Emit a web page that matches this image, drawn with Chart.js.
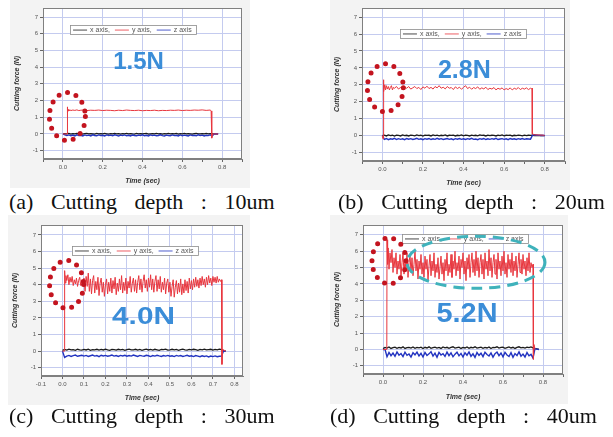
<!DOCTYPE html>
<html><head><meta charset="utf-8">
<script src="https://cdn.jsdelivr.net/npm/chart.js@4"></script>
<style>
html,body{margin:0;padding:0;background:#fff;width:613px;height:437px;overflow:hidden;}
.panel{position:absolute;background:#f3f3f3;}
.panel canvas{display:block;}
.cap{position:absolute;font-family:'Liberation Serif','Times New Roman',serif;font-size:22px;line-height:22px;color:#111;white-space:pre;word-spacing:12px;}
</style></head><body>
<div class="panel" style="left:10px;top:0px;width:240px;height:188px"><canvas id="ca" width="240" height="188"></canvas></div>
<div class="panel" style="left:330px;top:0px;width:240px;height:190px"><canvas id="cb" width="240" height="190"></canvas></div>
<div class="panel" style="left:8px;top:215px;width:242px;height:190px"><canvas id="cc" width="242" height="190"></canvas></div>
<div class="panel" style="left:330px;top:215px;width:238px;height:189px"><canvas id="cd" width="238" height="189"></canvas></div>
<div class="cap" style="left:9px;top:191px">(a) Cutting depth : 10um</div>
<div class="cap" style="left:338px;top:191px">(b) Cutting depth : 20um</div>
<div class="cap" style="left:9px;top:405px">(c) Cutting depth : 30um</div>
<div class="cap" style="left:330px;top:405px">(d) Cutting depth : 40um</div>
<script>
// ---------- DATA ----------
const seriesNames = ['x axis,', 'y axis,', 'z axis'];
const peakLabels = ['1.5N', '2.8N', '4.0N', '5.2N'];

// shared time grid (sec) for x-axis / z-axis force traces
const timeGrid = [0.00,0.01,0.02,0.03,0.04,0.05,0.06,0.07,0.08,0.09,
 0.10,0.11,0.12,0.13,0.14,0.15,0.16,0.17,0.18,0.19,
 0.20,0.21,0.22,0.23,0.24,0.25,0.26,0.27,0.28,0.29,
 0.30,0.31,0.32,0.33,0.34,0.35,0.36,0.37,0.38,0.39,
 0.40,0.41,0.42,0.43,0.44,0.45,0.46,0.47,0.48,0.49,
 0.50,0.51,0.52,0.53,0.54,0.55,0.56,0.57,0.58,0.59,
 0.60,0.61,0.62,0.63,0.64,0.65,0.66,0.67,0.68,0.69,
 0.70,0.71,0.72,0.73,0.74,0.75,0.76,0.77,0.78,0.79,
 0.80];

// (a) 10um
const xAxisA = [0.00,0.02,0.00,0.03,-0.01,0.02,0.01,0.03,0.00,0.02,
 -0.01,0.02,0.03,0.00,0.02,0.01,-0.01,0.03,0.01,0.02,
 0.00,0.03,0.01,-0.01,0.02,0.00,0.03,0.01,0.02,-0.01,
 0.02,0.00,0.03,0.01,0.02,0.00,-0.01,0.03,0.01,0.02,
 0.00,0.02,0.03,-0.01,0.01,0.02,0.00,0.03,0.01,0.02,
 -0.01,0.02,0.00,0.03,0.01,0.02,0.00,0.03,-0.01,0.02,
 0.01,0.03,0.00,0.02,0.01,-0.01,0.02,0.03,0.00,0.01,
 0.02,0.00,0.03,0.01,0.02,0.00,0.01,0.00,0.00];
const zAxisA = [0.00,-0.05,-0.10,-0.06,-0.11,-0.07,-0.12,-0.05,-0.10,-0.08,
 -0.12,-0.06,-0.10,-0.07,-0.12,-0.05,-0.09,-0.11,-0.06,-0.10,
 -0.08,-0.12,-0.06,-0.10,-0.07,-0.11,-0.05,-0.09,-0.12,-0.07,
 -0.10,-0.06,-0.11,-0.08,-0.12,-0.06,-0.09,-0.11,-0.07,-0.10,
 -0.05,-0.11,-0.08,-0.12,-0.06,-0.10,-0.07,-0.11,-0.09,-0.05,
 -0.10,-0.12,-0.07,-0.09,-0.11,-0.06,-0.10,-0.08,-0.12,-0.06,
 -0.11,-0.07,-0.09,-0.12,-0.06,-0.10,-0.08,-0.11,-0.05,-0.10,
 -0.07,-0.12,-0.08,-0.10,-0.06,-0.12,0.00,0.01,0.00];
const yAxisA = [[0,0],[0.021,0],[0.022,1.62],[0.024,1.28],[0.027,1.46],[0.03,1.38],[0.035,1.44],[0.04,1.4],
 [0.05,1.43],[0.06,1.41],[0.07,1.44],[0.08,1.4],[0.09,1.42],[0.10,1.43],[0.12,1.4],[0.14,1.42],[0.16,1.41],
 [0.18,1.43],[0.20,1.4],[0.22,1.42],[0.24,1.41],[0.26,1.39],[0.28,1.42],[0.30,1.4],[0.32,1.43],[0.34,1.41],
 [0.36,1.4],[0.38,1.42],[0.40,1.39],[0.42,1.41],[0.44,1.4],[0.46,1.42],[0.48,1.39],[0.50,1.41],[0.52,1.4],
 [0.54,1.42],[0.56,1.41],[0.58,1.43],[0.60,1.4],[0.62,1.42],[0.64,1.41],[0.66,1.43],[0.68,1.42],[0.70,1.44],
 [0.72,1.41],[0.74,1.43],[0.745,1.38],[0.748,-0.25],[0.752,0],[0.78,0]];

// (b) 20um
const xAxisB = [0.00,0.03,-0.02,0.04,0.00,0.02,-0.03,0.03,0.01,-0.02,
 0.04,0.00,0.02,-0.02,0.03,0.01,-0.01,0.04,0.00,0.02,
 -0.03,0.03,0.01,0.02,-0.02,0.04,0.00,0.03,-0.01,0.02,
 0.00,0.04,-0.02,0.02,0.01,0.03,-0.02,0.02,0.00,0.04,
 -0.01,0.03,0.01,-0.02,0.03,0.00,0.02,-0.01,0.04,0.01,
 0.02,-0.02,0.03,0.00,0.02,0.01,-0.02,0.03,0.00,0.04,
 -0.01,0.02,0.01,0.03,-0.02,0.02,0.00,0.03,0.01,-0.01,
 0.03,0.00,0.02,0.01,0.02,0.00,0.01,0.00,0.01,0.00,
 0.00];
const zAxisB = [0.00,-0.22,-0.17,-0.24,-0.19,-0.21,-0.16,-0.23,-0.18,-0.22,
 -0.19,-0.24,-0.17,-0.21,-0.18,-0.23,-0.20,-0.16,-0.22,-0.19,
 -0.24,-0.18,-0.21,-0.17,-0.23,-0.19,-0.22,-0.16,-0.21,-0.18,
 -0.23,-0.20,-0.17,-0.22,-0.19,-0.24,-0.18,-0.21,-0.17,-0.22,
 -0.19,-0.23,-0.18,-0.21,-0.16,-0.22,-0.20,-0.24,-0.18,-0.21,
 -0.17,-0.23,-0.19,-0.22,-0.18,-0.21,-0.16,-0.23,-0.20,-0.18,
 -0.22,-0.19,-0.24,-0.17,-0.21,-0.19,-0.23,-0.18,-0.21,-0.17,
 -0.22,-0.19,-0.20,-0.21,0.03,0.05,0.02,0.03,0.01,0.02,
 0.00];
const yAxisB = [[0,0],[0.004,-0.2],[0.005,3.3],[0.008,2.6],[0.012,3.0],[0.016,2.7],[0.02,2.95],[0.025,2.75],
 [0.03,2.9],[0.035,2.7],[0.04,2.85],[0.045,2.95],[0.05,2.7],[0.055,2.85],[0.06,2.8],[0.07,2.9],[0.08,2.75],
 [0.09,2.85],[0.10,2.7],[0.11,2.85],[0.12,2.8],[0.13,2.9],[0.14,2.75],[0.15,2.82],[0.16,2.9],[0.17,2.78],
 [0.18,2.85],[0.19,2.72],[0.20,2.88],[0.21,2.8],[0.22,2.92],[0.23,2.78],[0.24,2.85],[0.25,2.75],[0.26,2.9],
 [0.27,2.82],[0.28,2.95],[0.29,2.8],[0.30,2.86],[0.31,2.76],[0.32,2.9],[0.33,2.8],[0.34,2.84],[0.35,2.72],
 [0.36,2.88],[0.37,2.78],[0.38,2.86],[0.39,2.74],[0.40,2.85],[0.41,2.95],[0.42,2.78],[0.43,2.86],[0.44,2.74],
 [0.45,2.84],[0.46,2.78],[0.47,2.88],[0.48,2.74],[0.49,2.82],[0.50,2.76],[0.51,2.86],[0.52,2.72],[0.53,2.8],
 [0.54,2.75],[0.55,2.84],[0.56,2.7],[0.57,2.8],[0.58,2.74],[0.59,2.82],[0.60,2.7],[0.61,2.78],[0.62,2.72],
 [0.63,2.82],[0.64,2.7],[0.65,2.8],[0.66,2.74],[0.67,2.84],[0.68,2.72],[0.69,2.8],[0.70,2.75],[0.71,2.82],
 [0.72,2.72],[0.73,2.8],[0.735,2.76],[0.738,2.8],[0.739,0.1],[0.75,0.05],[0.80,0.02]];

// (c) 30um
const xAxisC = [0.05,0.10,0.06,0.12,0.07,0.09,0.05,0.11,0.08,0.06,
 0.10,0.07,0.12,0.05,0.09,0.08,0.11,0.06,0.10,0.07,
 0.12,0.08,0.05,0.10,0.09,0.06,0.11,0.07,0.10,0.05,
 0.09,0.12,0.07,0.08,0.11,0.06,0.10,0.05,0.09,0.12,
 0.07,0.10,0.06,0.11,0.08,0.05,0.10,0.09,0.12,0.06,
 0.08,0.11,0.07,0.10,0.05,0.09,0.12,0.08,0.06,0.10,
 0.07,0.11,0.09,0.05,0.10,0.08,0.12,0.07,0.09,0.11,
 0.06,0.10,0.08,0.12,0.09,0.02,0.00];
const zAxisC = [0.00,-0.38,-0.30,-0.26,-0.32,-0.27,-0.24,-0.31,-0.28,-0.25,
 -0.30,-0.26,-0.32,-0.28,-0.24,-0.30,-0.27,-0.33,-0.25,-0.29,
 -0.26,-0.31,-0.28,-0.24,-0.30,-0.27,-0.32,-0.26,-0.29,-0.25,
 -0.31,-0.27,-0.30,-0.24,-0.28,-0.32,-0.26,-0.29,-0.31,-0.25,
 -0.28,-0.33,-0.27,-0.30,-0.25,-0.29,-0.32,-0.27,-0.30,-0.26,
 -0.31,-0.28,-0.33,-0.26,-0.30,-0.27,-0.32,-0.29,-0.25,-0.31,
 -0.28,-0.33,-0.27,-0.30,-0.34,-0.28,-0.32,-0.29,-0.35,-0.30,
 -0.33,-0.29,-0.34,-0.31,-0.30,0.02,0.00];
const yAxisC = [[0,0],[0.009,0],[0.010,4.85],[0.013,4.1],[0.016,4.55],[0.020,4.25],[0.025,4.6],[0.030,4.0],
 [0.035,4.45],[0.040,4.15],[0.045,4.5],[0.050,3.95],[0.055,4.3],[0.060,4.05],[0.065,4.4],[0.070,3.9],[0.075,4.25],
 [0.080,4.45],[0.085,3.95],[0.090,4.3],[0.095,4.0],[0.100,4.4],[0.105,3.6],[0.110,4.5],[0.115,3.9],[0.120,4.7],
 [0.125,3.6],[0.130,4.35],[0.135,3.45],[0.140,4.25],[0.145,4.55],[0.150,3.5],[0.155,4.2],[0.160,3.7],[0.165,4.45],
 [0.170,3.35],[0.175,4.1],[0.180,4.4],[0.185,3.55],[0.190,4.15],[0.195,3.3],[0.200,4.0],[0.205,4.35],[0.210,3.45],
 [0.215,4.15],[0.220,3.6],[0.225,4.4],[0.230,3.5],[0.235,4.25],[0.240,3.75],[0.245,4.45],[0.250,3.4],[0.255,4.1],
 [0.260,3.6],[0.265,4.35],[0.270,3.7],[0.275,4.55],[0.280,3.5],[0.285,4.15],[0.290,3.65],[0.295,4.4],[0.300,3.45],
 [0.305,4.2],[0.310,3.8],[0.315,4.5],[0.320,3.55],[0.325,4.1],[0.330,4.4],[0.335,3.6],[0.340,4.3],[0.345,3.5],
 [0.350,4.15],[0.355,4.55],[0.360,3.7],[0.365,4.35],[0.370,3.55],[0.375,4.2],[0.380,4.6],[0.385,3.8],[0.390,4.3],
 [0.395,3.6],[0.400,4.4],[0.405,3.85],[0.410,4.6],[0.415,3.7],[0.420,4.35],[0.425,3.55],[0.430,4.2],[0.435,4.55],
 [0.440,3.6],[0.445,4.3],[0.450,3.75],[0.455,4.5],[0.460,3.55],[0.465,4.15],[0.470,3.7],[0.475,4.4],[0.480,3.45],
 [0.485,4.1],[0.490,4.35],[0.495,3.55],[0.500,4.15],[0.505,3.3],[0.510,3.9],[0.515,4.3],[0.520,3.25],[0.525,3.85],
 [0.530,4.25],[0.535,3.45],[0.540,4.1],[0.545,3.55],[0.550,4.35],[0.555,3.4],[0.560,4.05],[0.565,3.5],[0.570,4.3],
 [0.575,3.65],[0.580,4.2],[0.585,3.5],[0.590,4.4],[0.595,3.75],[0.600,4.25],[0.605,3.7],[0.610,4.35],[0.615,3.85],
 [0.620,4.45],[0.625,3.9],[0.630,4.3],[0.635,3.8],[0.640,4.4],[0.645,3.95],[0.650,4.5],[0.655,4.0],[0.660,4.35],
 [0.665,3.85],[0.670,4.45],[0.675,4.0],[0.680,4.55],[0.685,4.1],[0.690,4.4],[0.695,3.95],[0.700,4.5],[0.705,4.15],
 [0.710,4.45],[0.715,4.1],[0.720,4.5],[0.725,4.15],[0.730,4.35],[0.735,4.2],[0.740,4.3],[0.742,-0.8],[0.745,0.1],[0.760,0]];

// (d) 40um
const xAxisD = [0.05,0.12,0.08,0.15,0.06,0.11,0.14,0.07,0.12,0.09,
 0.16,0.06,0.11,0.13,0.08,0.15,0.07,0.12,0.10,0.14,
 0.06,0.13,0.09,0.16,0.07,0.11,0.14,0.08,0.12,0.06,
 0.15,0.10,0.13,0.07,0.12,0.16,0.08,0.11,0.14,0.06,
 0.12,0.09,0.15,0.07,0.13,0.10,0.16,0.08,0.11,0.14,
 0.07,0.12,0.09,0.15,0.06,0.13,0.11,0.16,0.08,0.12,
 0.14,0.07,0.11,0.15,0.09,0.13,0.06,0.12,0.16,0.10,
 0.13,0.08,0.14,0.11,0.15,0.10,0.06,0.03,0.00];
const zAxisD = [0.00,0.00,-0.45,-0.18,-0.38,-0.22,-0.42,-0.15,-0.35,-0.25,
 -0.44,-0.17,-0.36,-0.28,-0.47,-0.20,-0.33,-0.16,-0.40,-0.24,
 -0.46,-0.19,-0.37,-0.27,-0.14,-0.41,-0.23,-0.48,-0.18,-0.34,
 -0.26,-0.43,-0.16,-0.38,-0.21,-0.45,-0.29,-0.17,-0.39,-0.24,
 -0.46,-0.20,-0.35,-0.15,-0.42,-0.27,-0.49,-0.19,-0.36,-0.23,
 -0.44,-0.17,-0.31,-0.40,-0.21,-0.47,-0.26,-0.16,-0.38,-0.22,
 -0.45,-0.18,-0.34,-0.43,-0.20,-0.48,-0.25,-0.37,-0.15,-0.41,
 -0.28,-0.46,-0.19,-0.39,-0.30,-0.52,0.05,0.02,0.00];
const yAxisD = [[0,0],[0.019,0],[0.020,6.7],[0.023,5.2],[0.026,6.2],[0.030,4.9],[0.035,5.9],[0.040,5.3],[0.045,6.1],
 [0.050,4.7],[0.055,5.6],[0.060,5.0],[0.065,5.9],[0.070,4.6],[0.075,5.4],[0.080,4.9],[0.085,5.8],[0.090,4.5],
 [0.095,5.3],[0.100,5.9],[0.105,4.6],[0.110,5.5],[0.115,4.8],[0.120,5.9],[0.125,4.4],[0.130,5.3],[0.135,5.8],
 [0.140,4.7],[0.145,5.6],[0.150,4.5],[0.155,5.2],[0.160,6.0],[0.165,4.8],[0.170,5.5],[0.175,4.3],[0.180,5.4],
 [0.185,4.9],[0.190,5.8],[0.195,4.6],[0.200,5.3],[0.205,4.4],[0.210,5.7],[0.215,4.9],[0.220,5.5],[0.225,4.2],
 [0.230,5.1],[0.235,5.8],[0.240,4.5],[0.245,5.4],[0.250,4.8],[0.255,5.9],[0.260,4.4],[0.265,5.2],[0.270,4.7],
 [0.275,5.6],[0.280,4.3],[0.285,5.0],[0.290,5.7],[0.295,4.6],[0.300,5.3],[0.305,4.2],[0.310,5.5],[0.315,4.8],
 [0.320,5.9],[0.325,4.5],[0.330,5.2],[0.335,4.7],[0.340,5.8],[0.345,4.4],[0.350,5.4],[0.355,4.9],[0.360,6.0],
 [0.365,4.5],[0.370,5.3],[0.375,4.8],[0.380,5.7],[0.385,4.3],[0.390,5.5],[0.395,5.0],[0.400,5.9],[0.405,4.6],
 [0.410,5.4],[0.415,4.2],[0.420,5.6],[0.425,4.9],[0.430,5.8],[0.435,4.4],[0.440,5.3],[0.445,5.9],[0.450,4.7],
 [0.455,5.5],[0.460,4.5],[0.465,6.0],[0.470,4.8],[0.475,5.6],[0.480,4.4],[0.485,5.3],[0.490,5.8],[0.495,4.6],
 [0.500,5.5],[0.505,4.3],[0.510,5.9],[0.515,4.9],[0.520,5.4],[0.525,4.5],[0.530,6.1],[0.535,4.8],[0.540,5.6],
 [0.545,4.4],[0.550,5.3],[0.555,5.8],[0.560,4.6],[0.565,5.5],[0.570,4.3],[0.575,5.9],[0.580,4.9],[0.585,5.4],
 [0.590,4.5],[0.595,5.7],[0.600,4.8],[0.605,6.0],[0.610,4.6],[0.615,5.3],[0.620,4.4],[0.625,5.8],[0.630,4.9],
 [0.635,5.5],[0.640,4.7],[0.645,5.9],[0.650,4.5],[0.655,5.4],[0.660,4.8],[0.665,5.7],[0.670,4.4],[0.675,5.2],
 [0.680,5.9],[0.685,4.7],[0.690,5.5],[0.695,4.6],[0.700,5.8],[0.705,4.9],[0.710,5.4],[0.715,4.5],[0.720,5.6],
 [0.725,4.8],[0.730,5.9],[0.735,4.7],[0.740,5.3],[0.745,5.0],[0.750,5.2],[0.752,-0.6],[0.755,0.3],[0.760,0]];

// ---------- STYLE / LAYOUT ----------
const COL_X = '#1a1a1a', COL_Y = '#e8363e', COL_Z = '#2233c0';
const GRID = '#c4cbef';

const panels = [
 {id:'ca', x:xAxisA, y:yAxisA, z:zAxisA, label:peakLabels[0], xMin:-0.1, xMax:0.9, yMax:7.54, allX:false,
  padTop:8, padRight:8, yW:33, xH:29,
  labelAt:[0.38,4.29], labelSize:24, stretch:1.0,
  circle:{at:[0.0225,1.04], rx:18, ry:24}, oval:null, legend:[0.136,0.113]},
 {id:'cb', x:xAxisB, y:yAxisB, z:zAxisB, label:peakLabels[1], xMin:-0.1, xMax:0.9, yMax:7.54, allX:false,
  padTop:8, padRight:5, yW:32, xH:29,
  labelAt:[0.404,3.8], labelSize:25, stretch:1.0,
  circle:{at:[0.015,2.83], rx:18, ry:24}, oval:null, legend:[0.187,0.137]},
 {id:'cc', x:xAxisC, y:yAxisC, z:zAxisC, label:peakLabels[2], xMin:-0.1, xMax:0.84, yMax:7.6, allX:true,
  padTop:10, padRight:7, yW:33, xH:29,
  labelAt:[0.377,2.06], labelSize:24, stretch:1.24,
  circle:{at:[0.019,4.02], rx:17, ry:24}, oval:null, legend:[0.153,0.139]},
 {id:'cd', x:xAxisD, y:yAxisD, z:zAxisD, label:peakLabels[3], xMin:-0.1, xMax:0.9, yMax:7.6, allX:false,
  padTop:10, padRight:5, yW:33, xH:30,
  labelAt:[0.42,2.12], labelSize:28, stretch:1.03,
  circle:{at:[0.03,5.41], rx:17, ry:23}, oval:{at:[0.465,5.32], rx:69, ry:26}, legend:[0.195,0.06]}
];

const onGrid = vals => vals.map((v,i)=>({x:timeGrid[i], y:v}));
const fromPairs = p => p.map(([x,y])=>({x,y}));

const decor = {
 id:'decor',
 beforeDraw(chart){
   const {ctx, chartArea:a} = chart;
   ctx.save(); ctx.fillStyle='#fff'; ctx.fillRect(a.left,a.top,a.right-a.left,a.bottom-a.top); ctx.restore();
 },
 afterDraw(chart, args, o){
   const {ctx, chartArea:a, scales} = chart;
   const sx = scales.x, sy = scales.y;
   ctx.save();
   ctx.strokeStyle='#808080'; ctx.lineWidth=1;
   ctx.strokeRect(Math.round(a.left)+0.5, Math.round(a.top)+0.5, Math.round(a.right-a.left)-1, Math.round(a.bottom-a.top)-1);
   const lx = a.left + o.legend[0]*(a.right-a.left), ly = a.top + o.legend[1]*(a.bottom-a.top);
   const w=126, h=9;
   ctx.fillStyle='#fff'; ctx.fillRect(lx,ly,w,h);
   ctx.strokeStyle='#8c8c8c'; ctx.lineWidth=0.8; ctx.strokeRect(Math.round(lx)+0.5,Math.round(ly)+0.5,w,h);
   ctx.font='7px "Liberation Sans", Arial, sans-serif'; ctx.textBaseline='middle'; ctx.textAlign='left';
   const cols=[COL_X, COL_Y, COL_Z];
   let cx = lx+3; const cy = ly+h/2+0.5;
   seriesNames.forEach((t,i)=>{
     ctx.strokeStyle=cols[i]; ctx.lineWidth=0.8; ctx.beginPath(); ctx.moveTo(cx,cy); ctx.lineTo(cx+14,cy); ctx.stroke();
     cx += 17; ctx.fillStyle='#555'; ctx.fillText(t,cx,cy); cx += ctx.measureText(t).width+5;
   });
   const c = o.circle;
   ctx.beginPath(); ctx.ellipse(sx.getPixelForValue(c.at[0]), sy.getPixelForValue(c.at[1]), c.rx, c.ry, 0, 0, Math.PI*2);
   ctx.strokeStyle='#c3141f'; ctx.lineWidth=5; ctx.lineCap='round'; ctx.setLineDash([0,9]); ctx.stroke();
   if (o.oval){
     const v=o.oval; ctx.beginPath();
     ctx.ellipse(sx.getPixelForValue(v.at[0]), sy.getPixelForValue(v.at[1]), v.rx, v.ry, 0, 0, Math.PI*2);
     ctx.strokeStyle='#3fb2bb'; ctx.lineWidth=3; ctx.lineCap='butt'; ctx.setLineDash([11,7]); ctx.stroke();
   }
   ctx.setLineDash([]);
   const px = sx.getPixelForValue(o.labelAt[0]), py = sy.getPixelForValue(o.labelAt[1]);
   ctx.translate(px,py); ctx.scale(o.stretch,1);
   ctx.font='bold '+o.labelSize+'px "Liberation Sans", Arial, sans-serif';
   ctx.fillStyle='#3b8dd8'; ctx.textAlign='center'; ctx.textBaseline='middle';
   ctx.fillText(o.text,0,0);
   ctx.restore();
 }
};

const near = (v, k) => Math.abs(v*k - Math.round(v*k)) < 1e-6;

panels.forEach(p=>{
  const xMajor = v => p.allX ? (near(v,10) && v < 0.81) : (near(v,10) && Math.round(v*10)%2===0 && v>-0.001 && v<0.81);
  new Chart(document.getElementById(p.id), {
    type:'line',
    data:{datasets:[
      {label:seriesNames[1], data:fromPairs(p.y), borderColor:COL_Y, borderWidth:1, pointRadius:0, order:1},
      {label:seriesNames[2], data:onGrid(p.z), borderColor:COL_Z, borderWidth:1.4, pointRadius:0, order:2},
      {label:seriesNames[0], data:onGrid(p.x), borderColor:COL_X, borderWidth:1.3, pointRadius:0, order:3}
    ]},
    options:{
      responsive:false, animation:false, devicePixelRatio:1,
      layout:{padding:{left:0, top:p.padTop, right:p.padRight, bottom:0}},
      elements:{line:{tension:0, fill:false}},
      plugins:{legend:{display:false}, tooltip:{enabled:false},
        decor:{legend:p.legend, circle:p.circle, oval:p.oval, labelAt:p.labelAt, labelSize:p.labelSize, stretch:p.stretch, text:p.label}},
      scales:{
        x:{type:'linear', min:p.xMin, max:p.xMax,
           afterFit:s=>{s.height=p.xH;},
           ticks:{stepSize:0.1, includeBounds:false, autoSkip:false, maxRotation:0, padding:2,
                  font:{size:6, family:'"Liberation Sans", Arial, sans-serif'}, color:'#555',
                  callback:v=> xMajor(v) ? (Math.round(v*10)/10).toFixed(1) : ''},
           grid:{color:ctx=> (ctx.tick && xMajor(ctx.tick.value) && ctx.tick.value>-0.05) ? GRID : 'rgba(0,0,0,0)',
                 tickColor:'#666', tickLength:3, lineWidth:1},
           border:{color:'#808080'},
           title:{display:true, text:'Time (sec)', color:'#333', padding:{top:0,bottom:3},
                  font:{size:7, style:'italic', weight:'bold', family:'"Liberation Sans", Arial, sans-serif'}}},
        y:{type:'linear', min:-1.5, max:p.yMax,
           afterFit:s=>{s.width=p.yW;},
           ticks:{stepSize:1, includeBounds:false, padding:2,
                  font:{size:6, family:'"Liberation Sans", Arial, sans-serif'}, color:'#555',
                  callback:v=> near(v,1) ? String(Math.round(v)) : ''},
           grid:{color:ctx=> (ctx.tick && near(ctx.tick.value,1)) ? GRID : 'rgba(0,0,0,0)',
                 tickColor:'#666', tickLength:3, lineWidth:1},
           border:{color:'#808080'},
           title:{display:true, text:'Cutting force (N)', color:'#333', padding:{top:3,bottom:0},
                  font:{size:7, style:'italic', weight:'bold', family:'"Liberation Sans", Arial, sans-serif'}}}
      }
    },
    plugins:[decor]
  });
});
</script>
</body></html>
